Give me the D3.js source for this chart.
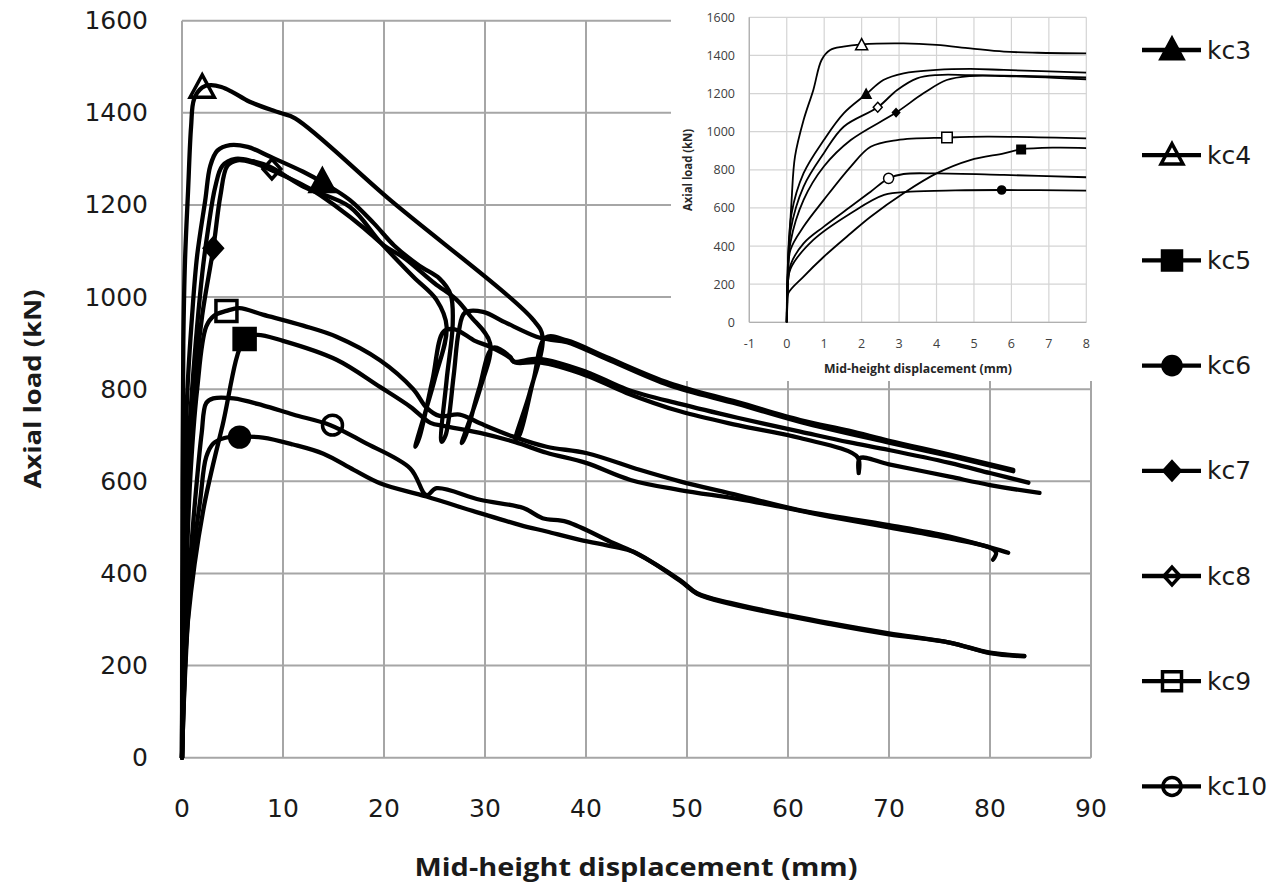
<!DOCTYPE html>
<html>
<head>
<meta charset="utf-8">
<script src="https://d3js.org/d3.v7.min.js"></script>
<title>Axial load vs mid-height displacement</title>
<style>
  body { margin: 0; background: #ffffff; }
  svg { display: block; }
</style>
</head>
<body>
<svg id="chart" width="1276" height="889"></svg>
<script>

// series names, marker styles
const seriesNames = ["kc3", "kc4", "kc5", "kc6", "kc7", "kc8", "kc9", "kc10"];
const markerTypes = ["triangle", "triangle", "square", "circle", "diamond", "diamond", "square", "circle"];
const markerFilled = [true, false, true, true, true, false, false, false];

// main chart: [displacement mm, load kN]
const kc3Main = [[0,0],[0.1,400],[0.5,780],[1,960],[1.5,1090],[2.3,1210],[2.8,1285],[3.5,1318],[4.75,1330],[6.5,1326],[8.7,1305],[12,1272],[14,1248],[16.6,1211],[19,1160],[21,1112],[23.5,1068],[25.5,1040],[26.6,1005],[26.8,940],[26.2,820],[25.7,686],[26.1,700],[26.9,830],[27.4,925],[28,966],[29.8,968],[32,945],[35.1,914],[36.3,908],[38.1,902],[42,866],[48.3,808],[55,768],[61.2,729],[70,684],[76,655],[82.3,622]];
const kc4Main = [[0,0],[0.05,600],[0.13,900],[0.3,1080],[0.6,1230],[0.9,1370],[1.2,1430],[2,1455],[2.8,1460],[3.9,1456],[5,1445],[6.7,1424],[9.7,1400],[11.2,1388],[20.6,1211],[34.8,950],[35.7,914],[34.4,790],[33,690],[33.4,700],[34.8,820],[36,912],[38.1,906],[42,870],[48.3,813],[55,772],[61.2,733],[66,710],[70,688],[76,658],[82.3,625]];
const kc5Main = [[0,0],[0.2,150],[0.6,300],[2.1,537],[4,720],[6.2,909],[7.4,918],[10,905],[15.3,864],[19.6,805],[22.6,762],[24.6,727],[26,720],[29.5,705],[33,685],[36.1,662],[40,640],[44.4,603],[49.3,581],[55,562],[59.2,545],[64.2,523],[70,500],[76,476],[80,456],[80.6,445],[80.3,430]];
const kc6Main = [[0,0],[0.3,180],[0.9,400],[1.8,559],[2.4,653],[3.1,682],[4.2,694],[5.7,697],[8,695],[11,680],[14,660],[17,625],[19.6,596],[24.2,567],[29.5,531],[33.5,505],[36.1,491],[39.4,473],[42.7,458],[44.7,447],[49.3,384],[51,356],[54.3,334],[64.2,290],[70,268],[76,250],[80,227],[83.4,220]];
const kc7Main = [[0,0],[0.1,250],[0.5,550],[1,750],[2,960],[3.1,1106],[3.8,1220],[4.5,1285],[5.5,1297],[7,1292],[8.9,1275],[12.7,1235],[15.3,1196],[18,1150],[20,1112],[22,1085],[25,1030],[27.2,994],[28.5,960],[30.5,900],[29.5,800],[27.7,683],[28.1,700],[29.4,800],[30.8,890],[32.5,870],[32.8,860],[35.4,866],[40,838],[44,800],[49.3,768],[55,738],[61.2,708],[66,685],[70,668],[76,640],[80,618],[83.8,597]];
const kc8Main = [[0,0],[0.1,300],[0.5,620],[1,800],[2,1050],[2.6,1150],[3.3,1240],[4,1285],[5.3,1300],[7,1295],[8.7,1283],[12,1240],[16.6,1196],[19.6,1120],[22.9,1044],[25.2,994],[26.2,936],[25,820],[23.1,675],[23.5,695],[24.8,820],[25.9,925],[27,930],[29,905],[30.5,892],[32.5,868],[33,858],[35.4,858],[40,830],[44,792],[49.3,752],[55,722],[61.2,694],[66.9,652],[67,618],[67.1,650],[70,637],[76,610],[80,592],[84.9,575]];
const kc9Main = [[0,0],[0.3,300],[0.8,600],[1.5,800],[2.4,936],[3.2,960],[4.4,970],[5.7,976],[8,962],[12,938],[15.3,914],[19.6,863],[22.9,800],[24.2,760],[25.5,742],[27.5,745],[29.5,726],[32.8,697],[36.1,675],[40.1,661],[45.3,625],[49.3,600],[55,570],[61.2,537],[70,505],[76,480],[81.8,445]];
const kc10Main = [[0,0],[0.3,200],[0.8,420],[1.45,596],[1.95,705],[2.4,770],[3.1,780],[5.1,780],[8,765],[11,745],[14.7,722],[18,685],[22.6,628],[24.2,570],[25.2,585],[29.5,560],[33.8,542],[35.7,520],[38.1,512],[42.7,466],[44.7,447],[49.3,386],[51,357],[54.3,336],[64.2,292],[70,270],[76,250],[80,228],[83.4,221]];

// one marker per series in the main chart
const mainMarkers = [[13.9,1250],[2.0,1455],[6.2,909],[5.7,696],[3.1,1106],[8.9,1278],[4.4,970],[14.9,722]];

// inset chart (first 8 mm)
const kc3Inset = [[0,0],[0.02,250],[0.13,572],[0.45,782],[0.99,956],[1.52,1096],[2.12,1196],[2.58,1271],[3.12,1306],[4,1324],[4.9,1329],[5.8,1324],[8,1310]];
const kc4Inset = [[0,0],[0.04,300],[0.13,642],[0.22,869],[0.45,1061],[0.71,1219],[0.93,1376],[1.16,1428],[1.51,1446],[2,1458],[3.12,1463],[4,1455],[4.9,1437],[5.8,1420],[6.7,1414],[8,1411]];
const kc5Inset = [[0,0],[0.02,100],[0.04,152],[0.45,240],[0.99,344],[1.71,467],[2.24,554],[3.12,677],[4,781],[4.9,851],[5.8,886],[6.26,907],[7.14,916],[8,914]];
const kc6Inset = [[0,0],[0.02,140],[0.1,280],[0.71,432],[1.71,572],[2.6,668],[3.3,685],[4.5,692],[5.74,694],[8,691]];
const kc7Inset = [[0,0],[0.02,200],[0.1,420],[0.45,642],[0.99,817],[1.71,956],[2.92,1100],[3.65,1201],[4.27,1271],[4.9,1292],[5.8,1292],[8,1275]];
const kc8Inset = [[0,0],[0.02,220],[0.1,480],[0.45,712],[0.99,887],[1.52,1026],[2.43,1128],[2.95,1219],[3.48,1280],[4,1297],[4.9,1297],[8,1285]];
const kc9Inset = [[0,0],[0.02,180],[0.1,380],[0.45,502],[0.99,642],[1.71,817],[2.24,921],[2.95,956],[4.28,969],[5.35,974],[8,965]];
const kc10Inset = [[0,0],[0.02,150],[0.1,300],[0.45,414],[0.99,502],[1.71,607],[2.24,685],[2.72,755],[3.12,778],[4,781],[5.8,773],[8,761]];

const insetMarkers = [[2.12,1196],[2.0,1455],[6.26,907],[5.74,694],[2.92,1100],[2.43,1128],[4.28,969],[2.72,755]];

// ticks
const mainXTicks = [0, 10, 20, 30, 40, 50, 60, 70, 80, 90];
const mainYTicks = [0, 200, 400, 600, 800, 1000, 1200, 1400, 1600];
const insetXTicks = [-1, 0, 1, 2, 3, 4, 5, 6, 7, 8];
const insetYTicks = [0, 200, 400, 600, 800, 1000, 1200, 1400, 1600];

const mainData = [kc3Main, kc4Main, kc5Main, kc6Main, kc7Main, kc8Main, kc9Main, kc10Main];
const insetData = [kc3Inset, kc4Inset, kc5Inset, kc6Inset, kc7Inset, kc8Inset, kc9Inset, kc10Inset];

const svg = d3.select("#chart");

function markerPath(type, s) {
  var h = s / 2;
  if (type === "square") return "M" + (-h) + "," + (-h) + "H" + h + "V" + h + "H" + (-h) + "Z";
  if (type === "triangle") return "M0," + (-h * 1.05) + "L" + h + "," + (h * 0.8) + "L" + (-h) + "," + (h * 0.8) + "Z";
  if (type === "diamond") return "M0," + (-h * 1.1) + "L" + h + ",0L0," + (h * 1.1) + "L" + (-h) + ",0Z";
  return d3.symbol(d3.symbolCircle, Math.PI * h * h)();
}
function markerSize(type, base) {
  if (type === "triangle") return base * 1.15;
  if (type === "diamond") return base * 0.85;
  if (type === "circle") return base * 0.95;
  return base;
}

// ---------- main chart ----------
var x = d3.scaleLinear().domain([0, 90]).range([182, 1091]);
var y = d3.scaleLinear().domain([0, 1600]).range([757.7, 20.7]);

var grid = svg.append("g").attr("stroke", "#a6a6a6").attr("stroke-width", 2);
grid.selectAll("line.h").data(mainYTicks).enter().append("line")
  .attr("x1", x(0)).attr("x2", x(90))
  .attr("y1", d => y(d)).attr("y2", d => y(d));
grid.selectAll("line.v").data(mainXTicks).enter().append("line")
  .attr("y1", y(0)).attr("y2", y(1600))
  .attr("x1", d => x(d)).attr("x2", d => x(d));

svg.append("g").selectAll("text").data(mainYTicks).enter().append("text")
  .attr("x", 148).attr("y", d => y(d))
  .attr("text-anchor", "end").attr("dominant-baseline", "central")
  .attr("font-family", "DejaVu Sans").attr("font-size", 25).attr("fill", "#1a1a1a")
  .text(d => d);
svg.append("g").selectAll("text").data(mainXTicks).enter().append("text")
  .attr("x", d => x(d)).attr("y", 808)
  .attr("text-anchor", "middle").attr("dominant-baseline", "central")
  .attr("font-family", "DejaVu Sans").attr("font-size", 25).attr("fill", "#1a1a1a")
  .text(d => d);

var mainLine = d3.line().curve(d3.curveCatmullRom.alpha(0.5)).x(d => x(d[0])).y(d => y(d[1]));
svg.append("g").selectAll("path").data(mainData).enter().append("path")
  .attr("d", mainLine)
  .attr("fill", "none").attr("stroke", "#000").attr("stroke-width", 4.3)
  .attr("stroke-linejoin", "round").attr("stroke-linecap", "round");

svg.append("g").selectAll("path").data(mainMarkers).enter().append("path")
  .attr("transform", d => "translate(" + x(d[0]) + "," + y(d[1]) + ")")
  .attr("d", (d, i) => markerPath(markerTypes[i], markerSize(markerTypes[i], 21)))
  .attr("fill", (d, i) => markerFilled[i] ? "#000" : "none")
  .attr("stroke", "#000").attr("stroke-width", 3.5);

svg.append("text")
  .attr("x", 636).attr("y", 866)
  .attr("text-anchor", "middle").attr("dominant-baseline", "central")
  .attr("font-family", "Open Sans").attr("font-weight", 700).attr("font-size", 25)
  .attr("textLength", 443).attr("lengthAdjust", "spacingAndGlyphs")
  .attr("fill", "#1a1a1a")
  .text("Mid-height displacement (mm)");
svg.append("text")
  .attr("transform", "translate(31,389) rotate(-90)")
  .attr("text-anchor", "middle").attr("dominant-baseline", "central")
  .attr("font-family", "Open Sans").attr("font-weight", 700).attr("font-size", 24)
  .attr("textLength", 199).attr("lengthAdjust", "spacingAndGlyphs")
  .attr("fill", "#1a1a1a")
  .text("Axial load (kN)");

// ---------- inset ----------
var xi = d3.scaleLinear().domain([-1, 8]).range([749.3, 1086.3]);
var yi = d3.scaleLinear().domain([0, 1600]).range([322.3, 17.3]);

svg.append("rect").attr("x", 671).attr("y", 0).attr("width", 429).attr("height", 381).attr("fill", "#fff");

var igrid = svg.append("g").attr("stroke", "#d4d4d4").attr("stroke-width", 1.2);
igrid.selectAll("line.h").data(insetYTicks).enter().append("line")
  .attr("x1", xi(-1)).attr("x2", xi(8))
  .attr("y1", d => yi(d)).attr("y2", d => yi(d));
igrid.selectAll("line.v").data(insetXTicks).enter().append("line")
  .attr("y1", yi(0)).attr("y2", yi(1600))
  .attr("x1", d => xi(d)).attr("x2", d => xi(d));
svg.append("line").attr("x1", xi(-1)).attr("x2", xi(-1)).attr("y1", yi(0)).attr("y2", yi(1600))
  .attr("stroke", "#b0b0b0").attr("stroke-width", 1.3);
svg.append("line").attr("x1", xi(-1)).attr("x2", xi(8)).attr("y1", yi(0)).attr("y2", yi(0))
  .attr("stroke", "#b0b0b0").attr("stroke-width", 1.3);

svg.append("g").selectAll("text").data(insetYTicks).enter().append("text")
  .attr("x", 735).attr("y", d => yi(d))
  .attr("text-anchor", "end").attr("dominant-baseline", "central")
  .attr("font-family", "Open Sans").attr("font-size", 12.5).attr("fill", "#404040")
  .text(d => d);
svg.append("g").selectAll("text").data(insetXTicks).enter().append("text")
  .attr("x", d => xi(d)).attr("y", 343)
  .attr("text-anchor", "middle").attr("dominant-baseline", "central")
  .attr("font-family", "Open Sans").attr("font-size", 12.5).attr("fill", "#404040")
  .text(d => d);

svg.append("defs").append("clipPath").attr("id", "insetclip")
  .append("rect").attr("x", xi(-1)).attr("y", 0).attr("width", xi(8) - xi(-1)).attr("height", yi(0) + 3);

var insetLine = d3.line().curve(d3.curveCatmullRom.alpha(0.5)).x(d => xi(d[0])).y(d => yi(d[1]));
svg.append("g").attr("clip-path", "url(#insetclip)")
  .selectAll("path").data(insetData).enter().append("path")
  .attr("d", insetLine)
  .attr("fill", "none").attr("stroke", "#000").attr("stroke-width", 1.8)
  .attr("stroke-linejoin", "round");

svg.append("g").selectAll("path").data(insetMarkers).enter().append("path")
  .attr("transform", d => "translate(" + xi(d[0]) + "," + yi(d[1]) + ")")
  .attr("d", (d, i) => markerPath(markerTypes[i], markerSize(markerTypes[i], markerFilled[i] ? 8.5 : 10.5)))
  .attr("fill", (d, i) => markerFilled[i] ? "#000" : "#fff")
  .attr("stroke", "#000").attr("stroke-width", 1.5);

svg.append("text")
  .attr("x", 918).attr("y", 368)
  .attr("text-anchor", "middle").attr("dominant-baseline", "central")
  .attr("font-family", "Open Sans").attr("font-weight", 700).attr("font-size", 12)
  .attr("textLength", 188).attr("lengthAdjust", "spacingAndGlyphs")
  .attr("fill", "#262626")
  .text("Mid-height displacement (mm)");
svg.append("text")
  .attr("transform", "translate(687,170) rotate(-90)")
  .attr("text-anchor", "middle").attr("dominant-baseline", "central")
  .attr("font-family", "Open Sans").attr("font-weight", 700).attr("font-size", 11.5)
  .attr("textLength", 82).attr("lengthAdjust", "spacingAndGlyphs")
  .attr("fill", "#262626")
  .text("Axial load (kN)");

// ---------- legend ----------
var legend = svg.append("g").selectAll("g").data(seriesNames).enter().append("g")
  .attr("transform", (d, i) => "translate(0," + (50 + i * 105.2) + ")");
legend.append("line").attr("x1", 1142).attr("x2", 1201).attr("y1", 0).attr("y2", 0)
  .attr("stroke", "#000").attr("stroke-width", 4.3);
legend.append("path")
  .attr("transform", "translate(1172,0)")
  .attr("d", (d, i) => markerPath(markerTypes[i], markerSize(markerTypes[i], 19)))
  .attr("fill", (d, i) => markerFilled[i] ? "#000" : "none")
  .attr("stroke", "#000").attr("stroke-width", 3.5);
legend.append("text")
  .attr("x", 1207).attr("y", 0)
  .attr("dominant-baseline", "central")
  .attr("font-family", "DejaVu Sans").attr("font-size", 25).attr("fill", "#1a1a1a")
  .text(d => d);

</script>
</body>
</html>
